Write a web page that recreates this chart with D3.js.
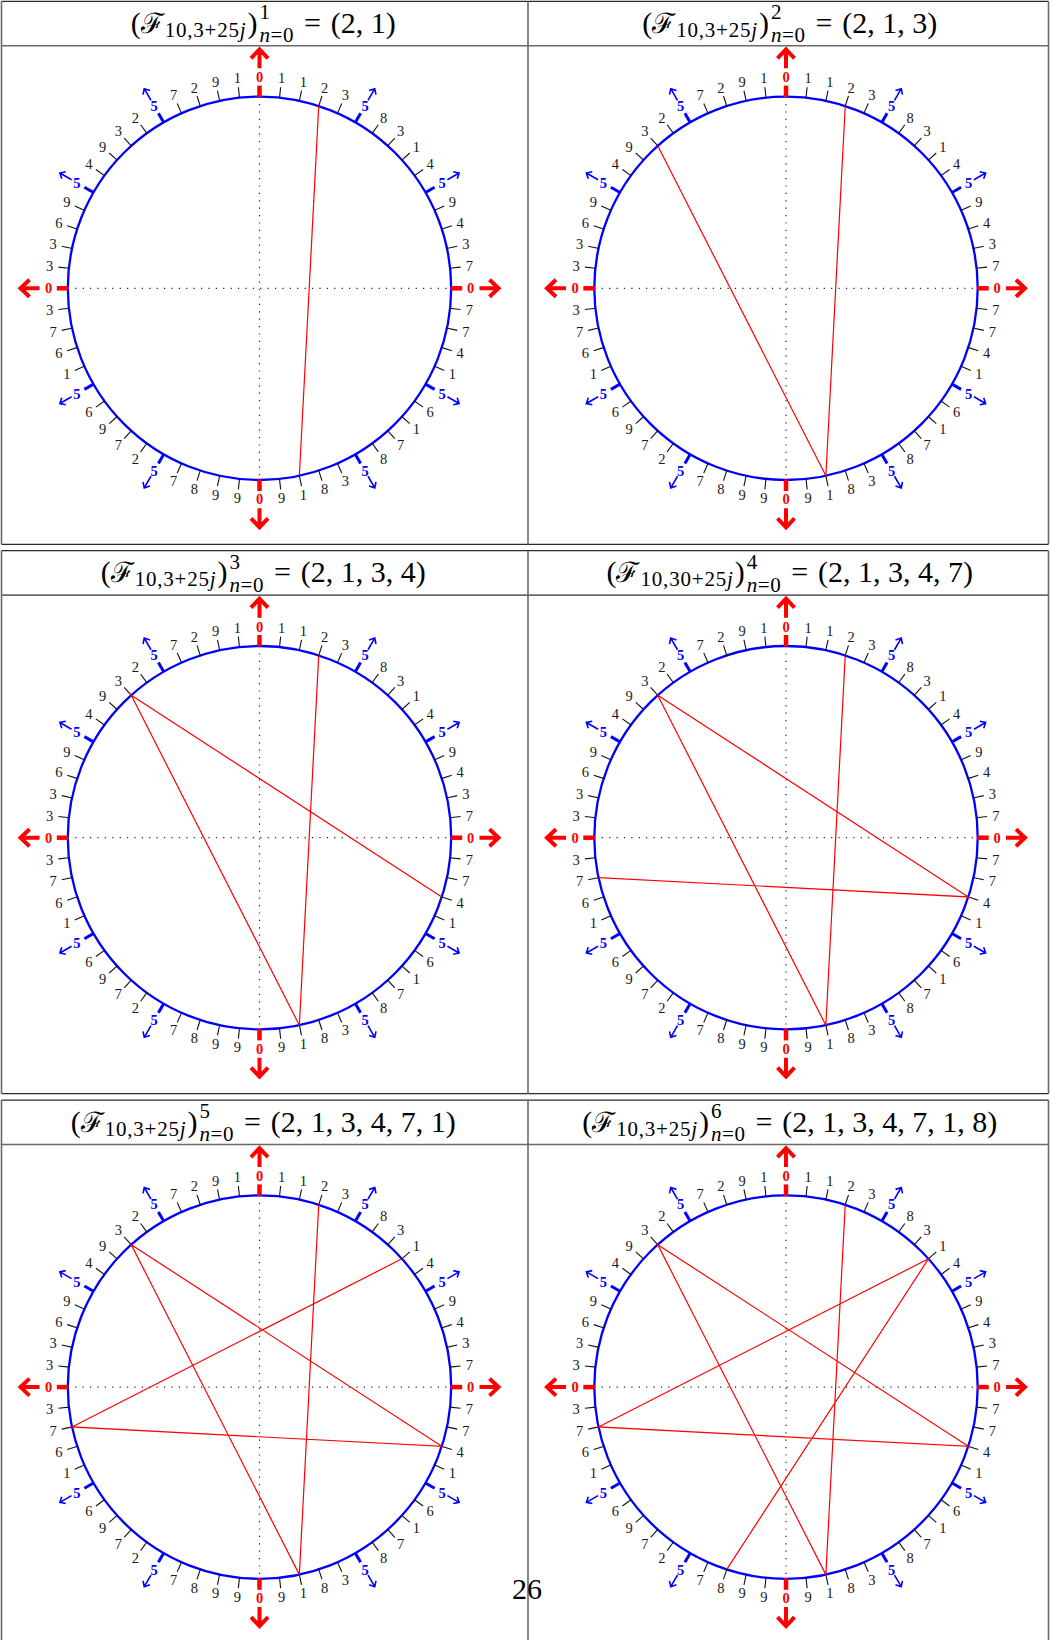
<!DOCTYPE html>
<html lang="en">
<head>
<meta charset="utf-8">
<title>Fibonacci mod 10 orbits</title>
<script src="https://d3js.org/d3.v7.min.js"></script>
<style>
    body { margin: 0; background: #fff; }
    svg { display: block; }
    text { font-family: "Liberation Serif", "DejaVu Serif", serif; }
</style>
</head>
<body>
<svg id="page" width="1053" height="1640"></svg>
<script>
// Fibonacci numbers mod 10, one full period, read clockwise round the dial from the top
const dialDigits = [0,1,1,2,3,5,8,3,1,4, 5,9,4,3,7,0,7,7,4,1,
                    5,6,1,7,8,5,3,8,1,9, 0,9,9,8,7,5,2,7,9,6,
                    5,1,6,7,3,0,3,3,6,9, 5,4,9,3,2,5,7,2,9,1];
// dial positions visited by the orbit and the digit found at each
const orbitPos  = [3, 28, 53, 18, 43, 8, 33];
const orbitVals = [2, 1, 3, 4, 7, 1, 8];
// panel titles (the 4th one really says 30 in the source)
const titleSubs = ["10,3+25j", "10,3+25j", "10,3+25j", "10,30+25j", "10,3+25j", "10,3+25j"];
const titleSups = ["1", "2", "3", "4", "5", "6"];
const pageNumber = "26";

const svg = d3.select("#page");

// table layout
const colX = [1.5, 528], colW = 523.5;
const rowY = [1.3, 550.7, 1100.1], rowH = 543, titleH = 44.4;
const R = 191.7;
const fsMain = 30, fsSmall = 21;

const angle = d3.scaleLinear().domain([0, dialDigits.length]).range([0, 2 * Math.PI]);

// ---- table lines
rowY.forEach(function(y){
    svg.append("line").attr("x1", colX[0]).attr("x2", colX[0] + 2*colW)
        .attr("y1", y).attr("y2", y).attr("stroke", "#2a2a2a").attr("stroke-width", 1.3);
    svg.append("line").attr("x1", colX[0]).attr("x2", colX[0] + 2*colW)
        .attr("y1", y + titleH).attr("y2", y + titleH).attr("stroke", "#6a6a6a").attr("stroke-width", 1.6);
    svg.append("line").attr("x1", colX[0]).attr("x2", colX[0] + 2*colW)
        .attr("y1", y + rowH).attr("y2", y + rowH).attr("stroke", "#2a2a2a").attr("stroke-width", 1.3);
    [colX[0], colX[1], colX[0] + 2*colW].forEach(function(x){
        svg.append("line").attr("x1", x).attr("x2", x)
            .attr("y1", y).attr("y2", y + rowH).attr("stroke", "#6a6a6a").attr("stroke-width", 1.6);
    });
});

// radial arrow, pointing out of the dial
function arrowPath(a, r1, r2, back, lat){
    const s = d3.pointRadial(a, r1), t = d3.pointRadial(a, r2), b = d3.pointRadial(a, r2 - back);
    const tx = Math.cos(a), ty = Math.sin(a);
    return "M" + s + "L" + t +
        "M" + [b[0] + lat*tx, b[1] + lat*ty] + "L" + t + "L" + [b[0] - lat*tx, b[1] - lat*ty];
}

function drawTitle(cx, base, sub, sup, vals){
    const g = svg.append("g");
    let x = 0;
    function piece(txt, size, dy, italic){
        const t = g.append("text").attr("x", x).attr("y", dy)
            .style("font-size", size + "px").style("font-style", italic ? "italic" : "normal").text(txt);
        return t.node().getComputedTextLength();
    }
    x += piece("(", fsMain, 0);
    x += piece("\u2131", fsMain - 2, 0) + 1;
    // subscript, j in italic
    const subT = g.append("text").attr("x", x).attr("y", 4).style("font-size", fsSmall + "px")
        .style("letter-spacing", "0.8px");
    subT.append("tspan").text(sub.slice(0, -1));
    subT.append("tspan").style("font-style", "italic").text(sub.slice(-1));
    x += subT.node().getComputedTextLength() + 1;
    x += piece(")", fsMain, 0) + 2;
    const w1 = piece(sup, fsSmall, -13.5);
    const nT = g.append("text").attr("x", x).attr("y", 9.5).style("font-size", fsSmall + "px")
        .style("letter-spacing", "0.6px");
    nT.append("tspan").style("font-style", "italic").text("n");
    nT.append("tspan").text("=0");
    x += Math.max(w1, nT.node().getComputedTextLength()) + 0.33*fsMain;
    x += piece("=", fsMain, 0) + 0.33*fsMain;
    x += piece("(" + vals.join(", ") + ")", fsMain, 0);
    g.attr("transform", "translate(" + (cx - x/2) + "," + base + ")");
}

titleSups.forEach(function(sup, k){
    const row = Math.floor(k / 2), col = k % 2;
    const x0 = colX[col], y0 = rowY[row];

    drawTitle(x0 + colW/2, y0 + 31.5, titleSubs[k], sup, orbitVals.slice(0, k + 2));

    const g = svg.append("g").attr("transform", "translate(" + (x0 + 258) + "," + (y0 + 287) + ")");

    // dotted axes
    g.append("line").attr("x1", -R).attr("x2", R).attr("y1", 0).attr("y2", 0);
    g.append("line").attr("y1", -R).attr("y2", R).attr("x1", 0).attr("x2", 0);
    g.selectAll("line").attr("stroke", "#222").attr("stroke-width", 1.2)
        .attr("stroke-dasharray", "1.2,6.2");

    const marks = dialDigits.map(function(d, i){ return {d: d, a: angle(i)}; });

    g.append("circle").attr("r", R).attr("fill", "none")
        .attr("stroke", "#0000ff").attr("stroke-width", 2.3);

    g.selectAll("line.tick").data(marks).join("line").attr("class", "tick")
        .each(function(m){
            const len = m.d === 0 ? 11 : 10.5;
            const p1 = d3.pointRadial(m.a, R - 0.5), p2 = d3.pointRadial(m.a, R + len);
            d3.select(this).attr("x1", p1[0]).attr("y1", p1[1]).attr("x2", p2[0]).attr("y2", p2[1]);
        })
        .attr("stroke", function(m){ return m.d === 0 ? "#ff0000" : m.d === 5 ? "#0000ff" : "#111"; })
        .attr("stroke-width", function(m){ return m.d === 0 ? 4.5 : m.d === 5 ? 3 : 1.1; });

    g.selectAll("text.dig").data(marks).join("text").attr("class", "dig")
        .attr("x", function(m){ return d3.pointRadial(m.a, 211)[0]; })
        .attr("y", function(m){ return d3.pointRadial(m.a, 211)[1]; })
        .attr("dy", "0.34em").attr("text-anchor", "middle")
        .style("font-size", "14.5px")
        .style("font-weight", function(m){ return (m.d === 0 || m.d === 5) ? "bold" : "normal"; })
        .attr("fill", function(m){ return m.d === 0 ? "#ff0000" : m.d === 5 ? "#0000ff" : "#1a1a1a"; })
        .text(function(m){ return m.d; });

    g.selectAll("path.zero").data(marks.filter(function(m){ return m.d === 0; })).join("path")
        .attr("class", "zero").attr("fill", "none").attr("stroke", "#ff0000").attr("stroke-width", 4)
        .attr("d", function(m){ return arrowPath(m.a, 220, 239, 9, 8.5); });

    g.selectAll("path.five").data(marks.filter(function(m){ return m.d === 5; })).join("path")
        .attr("class", "five").attr("fill", "none").attr("stroke", "#0000ff").attr("stroke-width", 1.6)
        .attr("d", function(m){ return arrowPath(m.a, 217, 230.5, 4.5, 4); });

    // the orbit so far
    const pts = orbitPos.slice(0, k + 2).map(function(p){ return d3.pointRadial(angle(p), R); });
    g.append("path").attr("d", d3.line()(pts)).attr("fill", "none")
        .attr("stroke", "#ff0000").attr("stroke-width", 1.2);
});

svg.append("text").attr("x", 527).attr("y", 1599).attr("text-anchor", "middle")
    .style("font-size", "30px").text(pageNumber);
</script>
</body>
</html>
